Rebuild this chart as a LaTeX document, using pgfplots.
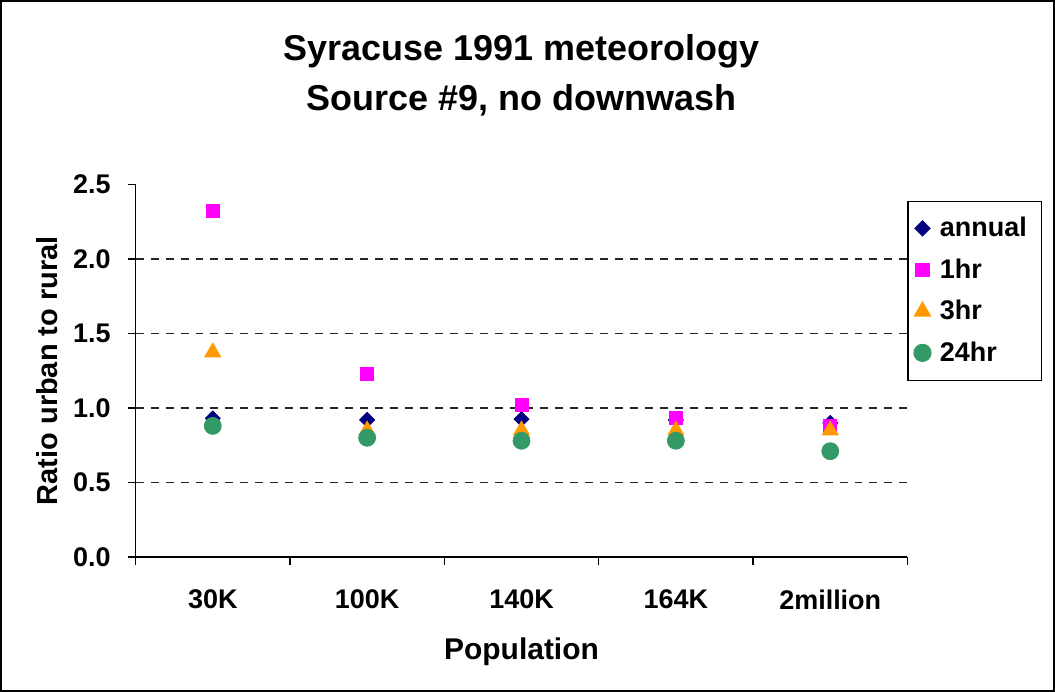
\documentclass[border=0pt]{standalone}
\usepackage{pgfplots}
\pgfplotsset{compat=1.18}
\usepackage{fontspec}
\setmainfont{Liberation Sans}

\definecolor{annualc}{RGB}{0,0,128}
\definecolor{onehr}{RGB}{255,0,255}
\definecolor{threehr}{RGB}{255,153,0}
\definecolor{daycol}{RGB}{51,153,102}

\begin{document}
\begin{tikzpicture}
\begin{axis}[
	at={(0pt,0pt)},
	anchor=south west,
	scale only axis,
	width=386.5pt,
	height=186.5pt,
	xmin=-0.5, xmax=4.5,
	ymin=0, ymax=2.5,
	axis x line*=bottom,
	axis y line*=left,
	axis line style={-, black, line width=0.6pt},
	tick align=outside,
	major tick length=4pt,
	tick style={black, line width=0.6pt},
	xtick={-0.5,0.5,1.5,2.5,3.5,4.5},
	xticklabels={},
	extra x ticks={0,1,2,3,4},
	extra x tick labels={30K,100K,140K,164K,2million},
	extra x tick style={major tick length=0pt, tick style={draw=none}},
	ytick={0,0.5,1,1.5,2,2.5},
	extra y ticks={0.5,1,1.5,2},
	extra y tick labels={},
	extra y tick style={ymajorgrids=true, major tick length=0pt},
	grid style={black!85, dash pattern=on 4pt off 3.5pt, line width=0.6pt},
	yticklabel style={/pgf/number format/fixed, /pgf/number format/fixed zerofill,
		/pgf/number format/precision=1, xshift=-5pt},
	/pgf/number format/assume math mode=true,
	every tick label/.append style={font=\bfseries\fontsize{13.5}{16}\selectfont},
	xticklabel style={yshift=-13pt},
	xlabel={Population},
	ylabel={Ratio urban to rural},
	label style={font=\bfseries\fontsize{15}{18}\selectfont},
	xlabel style={yshift=-3pt},
	ylabel style={yshift=-3pt, font=\bfseries\fontsize{14.5}{18}\selectfont},
	title={Syracuse 1991 meteorology\\Source \#9, no downwash},
	title style={font=\bfseries\fontsize{18}{25}\selectfont, align=center, yshift=25pt},
	legend style={at={(1.0,0.957)}, anchor=north west, draw=black, line width=0.6pt,
		font=\bfseries\fontsize{13.5}{16}\selectfont, legend cell align=left,
		row sep=5.5pt, inner xsep=3pt, inner ysep=6pt,
		nodes={inner xsep=4.5pt}},
	clip=false,
]
\addplot[only marks, mark=square*, mark options={rotate=45, fill=annualc, draw=annualc}, mark size=2.65pt]
	coordinates {(0,0.93) (1,0.92) (2,0.925) (3,0.92) (4,0.90)};
\addlegendentry{annual}
\addplot[only marks, mark=square*, mark options={fill=onehr, draw=onehr}, mark size=3.25pt]
	coordinates {(0,2.32) (1,1.227) (2,1.02) (3,0.935) (4,0.88)};
\addlegendentry{1hr}
\addplot[only marks, mark=triangle*, mark options={fill=threehr, draw=threehr}, mark size=4.6pt]
	coordinates {(0,1.374) (1,0.85) (2,0.85) (3,0.85) (4,0.85)};
\addlegendentry{3hr}
\addplot[only marks, mark=*, mark options={fill=daycol, draw=daycol}, mark size=4.25pt]
	coordinates {(0,0.88) (1,0.80) (2,0.78) (3,0.78) (4,0.71)};
\addlegendentry{24hr}
\end{axis}
\draw[black, line width=0.8pt] (-67.5pt,-67pt) rectangle (460pt,278.5pt);
\end{tikzpicture}
\end{document}
